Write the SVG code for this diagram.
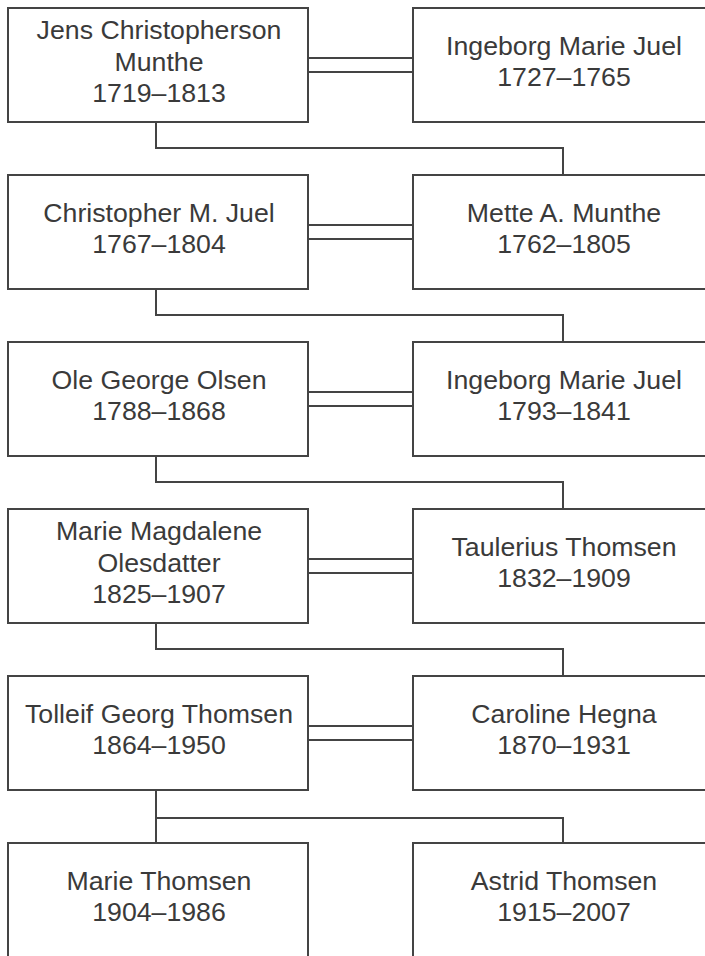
<svg xmlns="http://www.w3.org/2000/svg" width="705" height="956" viewBox="0 0 705 956">
<style>
rect.box{fill:#fff;stroke:#444;stroke-width:2}
.conn path{fill:none;stroke:#444;stroke-width:2}
text{font-family:"Liberation Sans",Arial,sans-serif;font-size:26.7px;fill:#3a3a3a;text-anchor:middle}
</style>
<rect width="705" height="956" fill="#fff"/>
<g class="conn">
<path d="M308 58H413M308 72H413"/>
<path d="M308 225H413M308 239H413"/>
<path d="M308 392H413M308 406H413"/>
<path d="M308 559H413M308 573H413"/>
<path d="M308 726H413M308 740H413"/>
<path d="M156 122V148H563V175"/>
<path d="M156 289V315H563V342"/>
<path d="M156 456V482H563V509"/>
<path d="M156 623V649H563V676"/>
<path d="M156 790V818H563V843M156 818V843"/>
</g>
<g id="jens"><rect class="box" x="8" y="8" width="300" height="114"/><text x="159" y="39">Jens Christopherson</text><text x="159" y="70.5">Munthe</text><text x="159" y="102">1719–1813</text></g>
<g id="ingeborg1"><rect class="box" x="413" y="8" width="300" height="114"/><text x="564" y="55">Ingeborg Marie Juel</text><text x="564" y="86">1727–1765</text></g>
<g id="christopher"><rect class="box" x="8" y="175" width="300" height="114"/><text x="159" y="222">Christopher M. Juel</text><text x="159" y="253">1767–1804</text></g>
<g id="mette"><rect class="box" x="413" y="175" width="300" height="114"/><text x="564" y="222">Mette A. Munthe</text><text x="564" y="253">1762–1805</text></g>
<g id="ole"><rect class="box" x="8" y="342" width="300" height="114"/><text x="159" y="389">Ole George Olsen</text><text x="159" y="420">1788–1868</text></g>
<g id="ingeborg2"><rect class="box" x="413" y="342" width="300" height="114"/><text x="564" y="389">Ingeborg Marie Juel</text><text x="564" y="420">1793–1841</text></g>
<g id="marie-magdalene"><rect class="box" x="8" y="509" width="300" height="114"/><text x="159" y="540">Marie Magdalene</text><text x="159" y="571.5">Olesdatter</text><text x="159" y="603">1825–1907</text></g>
<g id="taulerius"><rect class="box" x="413" y="509" width="300" height="114"/><text x="564" y="556">Taulerius Thomsen</text><text x="564" y="587">1832–1909</text></g>
<g id="tolleif"><rect class="box" x="8" y="676" width="300" height="114"/><text x="159" y="723">Tolleif Georg Thomsen</text><text x="159" y="754">1864–1950</text></g>
<g id="caroline"><rect class="box" x="413" y="676" width="300" height="114"/><text x="564" y="723">Caroline Hegna</text><text x="564" y="754">1870–1931</text></g>
<g id="marie-thomsen"><rect class="box" x="8" y="843" width="300" height="114"/><text x="159" y="890">Marie Thomsen</text><text x="159" y="921">1904–1986</text></g>
<g id="astrid"><rect class="box" x="413" y="843" width="300" height="114"/><text x="564" y="890">Astrid Thomsen</text><text x="564" y="921">1915–2007</text></g>
</svg>
